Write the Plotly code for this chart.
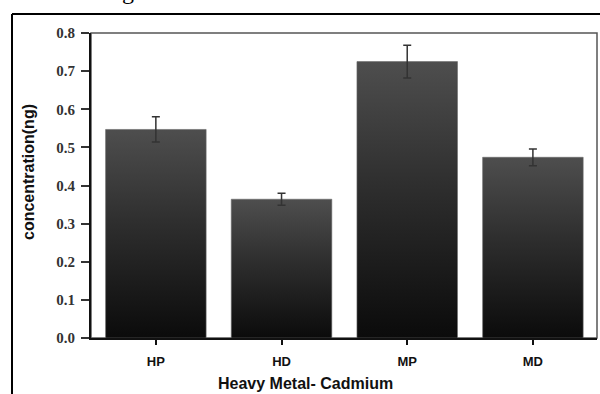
import plotly.graph_objects as go

categories = ["HP", "HD", "MP", "MD"]
values = [0.547, 0.364, 0.725, 0.474]
errors = [0.033, 0.016, 0.043, 0.022]
y_ticks = [0.0, 0.1, 0.2, 0.3, 0.4, 0.5, 0.6, 0.7, 0.8]
x_title = "Heavy Metal- Cadmium"
y_title = "concentration(ng)"

W, H = 600, 394
ML, MR, MT, MB = 91, 3, 33, 56
PW, PH = W - ML - MR, H - MT - MB

def px_x(p):
    return (p - ML) / PW

def px_y(p):
    return 1 - (p - MT) / PH

half = 0.4
fig = go.Figure()
for i, (c, v) in enumerate(zip(categories, values)):
    fig.add_trace(go.Scatter(
        x=[i - half, i + half, i + half, i - half, i - half],
        y=[0, 0, v, v, 0],
        mode="lines",
        fill="toself",
        fillgradient=dict(type="vertical", start=0, stop=v,
                          colorscale=[[0, "#0b0b0b"], [0.55, "#2e2e2e"], [1, "#4e4e4e"]]),
        line=dict(color="#6a6a6a", width=0.6),
        hoverinfo="skip",
        showlegend=False,
        name=c,
    ))

fig.add_trace(go.Scatter(
    x=list(range(len(categories))),
    y=values,
    mode="markers",
    marker=dict(size=1, color="rgba(0,0,0,0)"),
    error_y=dict(type="data", array=errors, visible=True,
                 color="#333333", thickness=1.5, width=4),
    showlegend=False,
))

fig.update_layout(
    width=W, height=H,
    margin=dict(l=ML, r=MR, t=MT, b=MB),
    paper_bgcolor="white",
    plot_bgcolor="white",
    xaxis=dict(
        range=[-0.516, 3.51],
        tickvals=list(range(len(categories))),
        ticktext=["<b>" + c + "</b>" for c in categories],
        ticks="outside", ticklen=5, tickwidth=2, tickcolor="#111",
        showline=True, linecolor="#111", linewidth=2,
        showgrid=False, zeroline=False,
        tickfont=dict(family="Liberation Sans", size=13, color="#111"),
        ticklabelstandoff=5,
    ),
    yaxis=dict(
        range=[0, 0.8],
        tickvals=y_ticks,
        ticktext=["<b>%.1f</b>" % t for t in y_ticks],
        ticks="outside", ticklen=8, tickwidth=2, tickcolor="#333",
        showline=True, linecolor="#111", linewidth=2,
        showgrid=False, zeroline=False,
        tickfont=dict(family="Liberation Serif", size=15, color="#333"),
        ticklabelstandoff=3,
    ),
    annotations=[
        dict(text="<b>" + x_title + "</b>", xref="paper", yref="paper",
             x=px_x(305), y=px_y(383), xanchor="center", yanchor="middle",
             showarrow=False, font=dict(family="Liberation Sans", size=16, color="#111")),
        dict(text="<b>" + y_title + "</b>", xref="paper", yref="paper",
             x=px_x(28), y=px_y(172), xanchor="center", yanchor="middle",
             textangle=-90, showarrow=False,
             font=dict(family="Liberation Sans", size=16, color="#111")),
        dict(text="g", xref="paper", yref="paper",
             x=px_x(128), y=px_y(6), xanchor="center", yanchor="bottom",
             showarrow=False, font=dict(family="Liberation Serif", size=24, color="#000")),
    ],
    shapes=[
        dict(type="rect", xref="paper", yref="paper", x0=0, x1=1, y0=0, y1=1,
             line=dict(color="#555", width=1.5), layer="below"),
        dict(type="line", xref="paper", yref="paper",
             x0=px_x(12), x1=px_x(602), y0=px_y(14), y1=px_y(14),
             line=dict(color="#000", width=2)),
        dict(type="line", xref="paper", yref="paper",
             x0=px_x(12), x1=px_x(12), y0=px_y(14), y1=px_y(396),
             line=dict(color="#000", width=2)),
    ],
)

fig.write_html("out.html")
